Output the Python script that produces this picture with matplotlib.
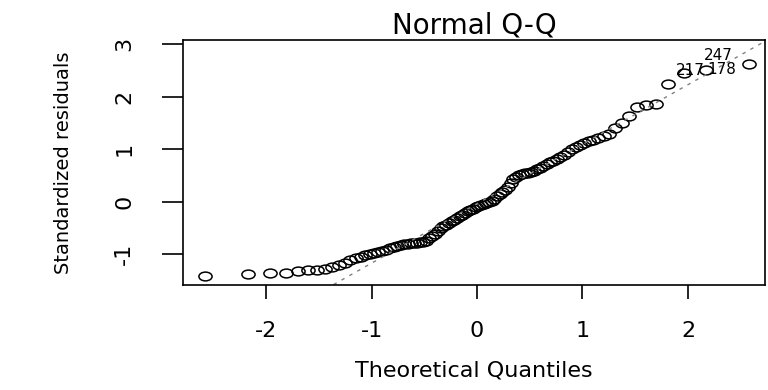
import numpy as np
import matplotlib
matplotlib.use("Agg")
import matplotlib.pyplot as plt
from matplotlib.path import Path
from matplotlib.transforms import Affine2D
from statistics import NormalDist

# residuos estandarizados ordenados (n = 100)
resid = [-1.42, -1.37, -1.36, -1.35, -1.33, -1.31, -1.30, -1.28, -1.24, -1.21,
         -1.16, -1.12, -1.07, -1.05, -1.02, -0.99, -0.97, -0.96, -0.94, -0.92,
         -0.89, -0.86, -0.84, -0.82, -0.81, -0.80, -0.79, -0.79, -0.78, -0.77,
         -0.76, -0.74, -0.70, -0.65, -0.61, -0.56, -0.51, -0.47, -0.44, -0.40,
         -0.37, -0.34, -0.31, -0.28, -0.25, -0.21, -0.18, -0.15, -0.13, -0.11,
         -0.09, -0.07, -0.05, -0.03, -0.01, 0.02, 0.06, 0.10, 0.14, 0.18,
         0.23, 0.28, 0.35, 0.43, 0.48, 0.50, 0.52, 0.54, 0.55, 0.57,
         0.59, 0.62, 0.65, 0.68, 0.72, 0.75, 0.78, 0.82, 0.86, 0.90,
         0.95, 1.00, 1.05, 1.09, 1.12, 1.15, 1.18, 1.22, 1.26, 1.30,
         1.40, 1.50, 1.64, 1.80, 1.84, 1.87, 2.25, 2.45, 2.52, 2.62]

# observaciones marcadas: indice en el vector ordenado, etiqueta, desplazamiento (pt)
marcados = [(97, "217", (15.5, 2.3)), (98, "178", (22, -0.3)), (99, "247", (-11.8, 6))]

xticks = [-2, -1, 0, 1, 2]
yticks = [-1, 0, 1, 2, 3]

n = len(resid)
y = np.array(resid)
# cuantiles teoricos como ppoints() de R
teo = np.array([NormalDist().inv_cdf((i - 0.5) / n) for i in range(1, n + 1)])

# recta tipo qqline: pasa por los cuartiles
yq = np.quantile(y, [0.25, 0.75])
xq = np.array([NormalDist().inv_cdf(0.25), NormalDist().inv_cdf(0.75)])
pend = (yq[1] - yq[0]) / (xq[1] - xq[0])
corte = yq[0] - pend * xq[0]

fig = plt.figure(figsize=(7.68, 3.9), dpi=100)
ax = fig.add_axes([0.238, 0.269, 0.758, 0.628])

# circulos algo achatados
elipse = Path.unit_circle().transformed(Affine2D().scale(1.5, 1.0))
ax.plot(teo, y, linestyle="none", marker=elipse, markersize=9.5,
        markerfacecolor="none", markeredgecolor="black", markeredgewidth=1.1)

xs = np.array([-3.0, 3.0])
ax.plot(xs, corte + pend * xs, color="0.5", linewidth=1.0,
        linestyle=(0, (2.5, 4)))

for i, lab, off in marcados:
    ax.annotate(lab, (teo[i], y[i]), xytext=off, textcoords="offset points",
                ha="right", va="center", fontsize=11)

ax.set_xlim(-2.79, 2.73)
ax.set_ylim(-1.59, 3.08)
ax.set_xticks(xticks)
ax.set_yticks(yticks)
ax.set_xticklabels([str(v) for v in xticks], fontsize=16)
ax.set_yticklabels([str(v) for v in yticks], fontsize=16, rotation=90,
                   va="center")
ax.tick_params(axis="x", length=10, width=1.2, pad=16, direction="out")
ax.tick_params(axis="y", length=15, width=1.2, pad=20, direction="out")
for s in ax.spines.values():
    s.set_linewidth(1.2)

ax.set_title("Normal Q-Q", fontsize=20, pad=5)
ax.set_xlabel("Theoretical Quantiles", fontsize=16, labelpad=14)
ax.set_ylabel("Standardized residuals", fontsize=14, labelpad=30)

fig.savefig("out.png", dpi=100)
